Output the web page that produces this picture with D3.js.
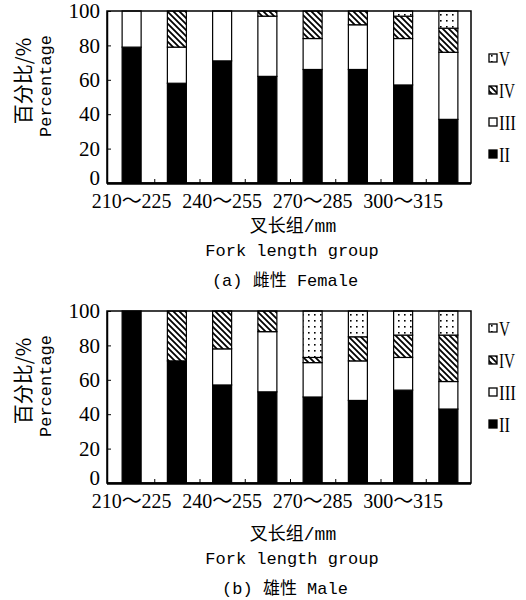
<!DOCTYPE html>
<html>
<head>
<meta charset="utf-8">
<script src="https://cdn.jsdelivr.net/npm/d3@7"></script>
<style>
  body { margin: 0; background: #fff; }
  svg { display: block; }
</style>
</head>
<body>
<svg id="chart" width="526" height="600"></svg>
<script>
// fork length groups (every other one gets a label)
const groups = ['210～225', '225～240', '240～255', '255～270', '270～285', '285～300', '300～315', '315～330']
const labelGroups = ['210～225', '240～255', '270～285', '300～315']
const stages = ['II', 'III', 'IV', 'V']
const legendLabels = ['V', 'IV', 'III', 'II']
const yTicks = [0, 20, 40, 60, 80, 100]

// female, % per stage
const femaleII  = [79, 58, 71, 62, 66, 66, 57, 37]
const femaleIII = [21, 21, 29, 35, 18, 26, 27, 39]
const femaleIV  = [0, 21, 0, 3, 16, 8, 13, 14]
const femaleV   = [0, 0, 0, 0, 0, 0, 3, 10]

// male, % per stage
const maleII  = [100, 71, 57, 53, 50, 48, 54, 43]
const maleIII = [0, 0, 21, 35, 20, 23, 19, 16]
const maleIV  = [0, 29, 22, 12, 3, 14, 13, 27]
const maleV   = [0, 0, 0, 0, 27, 15, 14, 14]

const svg = d3.select('#chart')
svg.append('rect').attr('width', 526).attr('height', 600).attr('fill', '#fff')

let defs = svg.append('defs')
let hatch = defs.append('pattern')
  .attr('id', 'hatch')
  .attr('patternUnits', 'userSpaceOnUse')
  .attr('width', 6).attr('height', 6)
hatch.append('rect').attr('width', 6).attr('height', 6).attr('fill', '#fff')
hatch.append('path')
  .attr('d', 'M0,0L6,6M-3,3L3,9M3,-3L9,3')
  .attr('stroke', '#000')
  .attr('stroke-width', 1.8)

let dots = defs.append('pattern')
  .attr('id', 'dots')
  .attr('patternUnits', 'userSpaceOnUse')
  .attr('width', 6).attr('height', 6)
dots.append('rect').attr('width', 6).attr('height', 6).attr('fill', '#fff')
dots.append('rect').attr('x', 2).attr('y', 2).attr('width', 1.6).attr('height', 1.6).attr('fill', '#000')

const fills = { II: '#000', III: '#fff', IV: 'url(#hatch)', V: 'url(#dots)' }
// squeeze the roman numerals like the narrow serif of the original
const legendWidth = { V: 11, IV: 16, III: 17, II: 11 }

const serif = '"Liberation Serif", "Noto Sans CJK SC", serif'
const mono = '"Liberation Mono", "Noto Sans CJK SC", monospace'

function drawPanel(cfg) {
  let dims = {
    left: 107, right: 471,
    top: cfg.top, bottom: cfg.top + 172
  }
  let rows = groups.map((g, i) => ({
    group: g,
    II: cfg.II[i], III: cfg.III[i], IV: cfg.IV[i], V: cfg.V[i]
  }))
  let series = d3.stack().keys(stages)(rows)

  let xScale = d3.scaleBand()
    .domain(groups)
    .range([dims.left + 2, dims.right])
    .paddingInner(0.58)
    .paddingOuter(0.29)
  let xEdge = d3.scaleLinear()
    .domain([0, groups.length])
    .range([dims.left + 2, dims.right])
  let yScale = d3.scaleLinear()
    .domain([0, 100])
    .range([dims.bottom, dims.top])

  let g = svg.append('g')

  // bars
  g.selectAll('g.layer')
    .data(series)
    .enter()
    .append('g')
    .attr('class', 'layer')
    .attr('fill', d => fills[d.key])
    .selectAll('rect')
    .data(d => d.filter(p => p[1] - p[0] > 0))
    .enter()
    .append('rect')
    .attr('x', d => xScale(d.data.group))
    .attr('y', d => yScale(d[1]))
    .attr('width', xScale.bandwidth())
    .attr('height', d => yScale(d[0]) - yScale(d[1]))
    .attr('stroke', '#000')
    .attr('stroke-width', 1.2)

  // frame
  g.append('rect')
    .attr('x', dims.left).attr('y', dims.top)
    .attr('width', dims.right - dims.left)
    .attr('height', dims.bottom - dims.top)
    .attr('fill', 'none')
    .attr('stroke', '#000')
    .attr('stroke-width', 1.5)

  // y axis
  let yAxis = g.append('g')
    .attr('transform', `translate(${dims.left},0)`)
    .call(d3.axisLeft(yScale).tickValues(yTicks).tickSizeInner(-4).tickSizeOuter(0).tickPadding(7))
  yAxis.select('.domain').attr('stroke-width', 1.5)
  yAxis.selectAll('text')
    .attr('font-family', serif)
    .attr('font-size', 21)
    .attr('fill', '#000')
  yAxis.selectAll('.tick')
    .filter(d => d === 0)
    .select('text')
    .attr('y', -5)

  // x ticks at group boundaries
  let xTickAxis = g.append('g')
    .attr('transform', `translate(0,${dims.bottom})`)
    .call(d3.axisBottom(xEdge).tickValues(d3.range(1, groups.length)).tickSizeInner(-4).tickSizeOuter(0).tickFormat(''))
  xTickAxis.select('.domain')
    .attr('d', `M${dims.left},0.5H${dims.right}`)
    .attr('stroke-width', 2.5)

  // x labels
  let xAxis = g.append('g')
    .attr('transform', `translate(0,${dims.bottom})`)
    .call(d3.axisBottom(xScale).tickSize(0).tickPadding(11)
      .tickFormat(d => labelGroups.includes(d) ? d : ''))
  xAxis.select('.domain').remove()
  xAxis.selectAll('text')
    .attr('font-family', serif)
    .attr('font-size', 20)
    .attr('fill', '#000')

  // y title
  g.append('text')
    .attr('transform', `translate(31,${cfg.top + 70}) rotate(-90)`)
    .attr('text-anchor', 'middle')
    .attr('font-family', '"Noto Sans CJK SC", serif')
    .attr('font-size', 20)
    .text('百分比/%')
  g.append('text')
    .attr('transform', `translate(51,${cfg.top + 75}) rotate(-90)`)
    .attr('text-anchor', 'middle')
    .attr('font-family', mono)
    .attr('font-size', 17)
    .text('Percentage')

  // x titles
  g.append('text')
    .attr('x', 293).attr('y', dims.bottom + cfg.titleOffset)
    .attr('text-anchor', 'middle')
    .attr('font-family', mono)
    .attr('font-size', 18)
    .text('叉长组/mm')
  g.append('text')
    .attr('x', 292).attr('y', dims.bottom + cfg.titleOffset + 24)
    .attr('text-anchor', 'middle')
    .attr('font-family', mono)
    .attr('font-size', 17)
    .text('Fork length group')
  g.append('text')
    .attr('x', 285).attr('y', dims.bottom + cfg.titleOffset + 54)
    .attr('text-anchor', 'middle')
    .attr('font-family', mono)
    .attr('font-size', 17)
    .text(cfg.caption)

  // legend
  let legend = g.selectAll('g.legend')
    .data(legendLabels)
    .enter()
    .append('g')
    .attr('class', 'legend')
    .attr('transform', (d, i) => `translate(489,${cfg.top + cfg.legendTop + i * cfg.legendStep})`)
  legend.append('rect')
    .attr('x', 0).attr('y', -5)
    .attr('width', 8).attr('height', 8)
    .attr('fill', d => fills[d])
    .attr('stroke', '#000')
    .attr('stroke-width', 1.3)
  legend.append('text')
    .attr('x', 10).attr('y', 7)
    .attr('font-family', serif)
    .attr('font-size', 20)
    .attr('textLength', d => legendWidth[d])
    .attr('lengthAdjust', 'spacingAndGlyphs')
    .text(d => d)
}

drawPanel({
  top: 11, II: femaleII, III: femaleIII, IV: femaleIV, V: femaleV,
  caption: '(a) 雌性 Female', titleOffset: 49, legendTop: 48, legendStep: 32
})
drawPanel({
  top: 311, II: maleII, III: maleIII, IV: maleIV, V: maleV,
  caption: '(b) 雄性 Male', titleOffset: 57, legendTop: 18, legendStep: 32
})
</script>
</body>
</html>
